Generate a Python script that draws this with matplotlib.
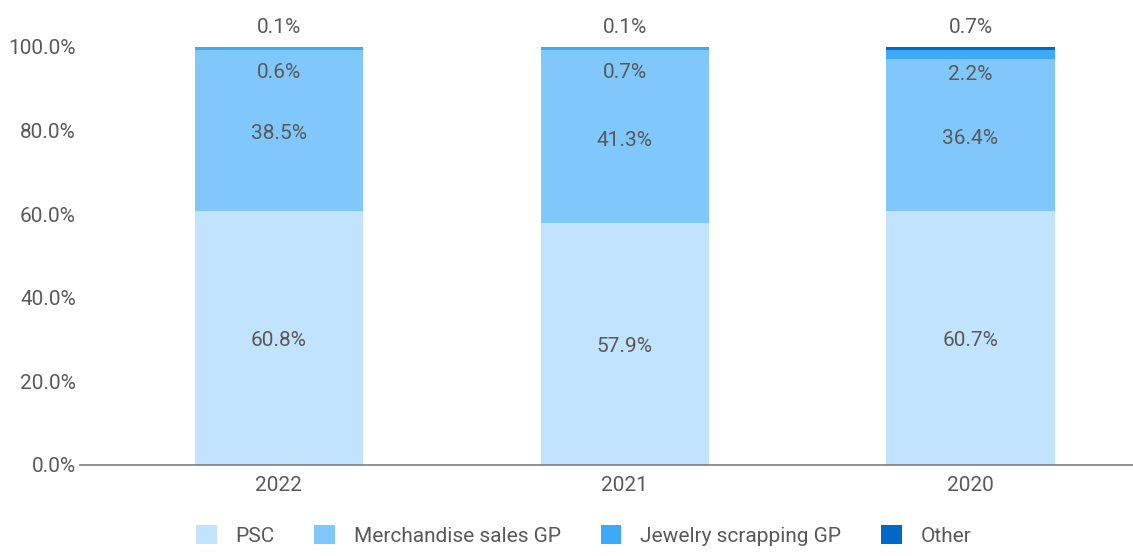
import matplotlib
matplotlib.use("Agg")
import matplotlib.pyplot as plt
import numpy as np

plt.rcParams['font.family'] = ['Roboto', 'DejaVu Sans']

years = ["2022", "2021", "2020"]
psc = [60.8, 57.9, 60.7]
merch = [38.5, 41.3, 36.4]
jewelry = [0.6, 0.7, 2.2]
other = [0.1, 0.1, 0.7]

series_names = ["PSC", "Merchandise sales GP", "Jewelry scrapping GP", "Other"]
colors = ["#c2e3fd", "#80c7fc", "#3eaaf7", "#0068c9"]
txt_col = "#595959"

fig = plt.figure(figsize=(11.33, 5.56), dpi=100)
ax = fig.add_axes([80 / 1133, 91 / 556, 1053 / 1133, 418 / 556])

x = np.arange(len(years))
w = 0.486
bottom = np.zeros(len(years))
for vals, name, c in zip([psc, merch, jewelry, other], series_names, colors):
    ax.bar(x, vals, w, bottom=bottom, color=c, label=name, linewidth=0)
    bottom = bottom + np.array(vals)

# value labels
for i in range(len(years)):
    ax.text(x[i], psc[i] / 2 - 0.5, f"{psc[i]:.1f}%", ha="center", va="center", fontsize=15, color=txt_col)
    ax.text(x[i], psc[i] + merch[i] / 2 - 0.8, f"{merch[i]:.1f}%", ha="center", va="center", fontsize=15, color=txt_col)
    top_j = psc[i] + merch[i] + jewelry[i]
    ax.text(x[i], top_j - 5.9, f"{jewelry[i]:.1f}%", ha="center", va="center", fontsize=15, color=txt_col)
    ax.text(x[i], 104.6, f"{other[i]:.1f}%", ha="center", va="center", fontsize=15, color=txt_col)

ax.set_xlim(-0.575, 2.47)
ax.set_ylim(0, 100)
ax.set_yticks(np.arange(0, 101, 20))
ax.set_yticklabels([f"{v:.1f}%" for v in np.arange(0, 101, 20)])
ax.set_xticks(x)
ax.set_xticklabels(years)
ax.tick_params(axis="both", length=0, labelsize=15, labelcolor=txt_col)
ax.tick_params(axis="y", pad=3)
ax.tick_params(axis="x", pad=8)
for s in ["top", "right", "left"]:
    ax.spines[s].set_visible(False)
ax.spines["bottom"].set_color("#7f7f7f")
ax.spines["bottom"].set_linewidth(1.2)

leg = fig.legend(loc="lower center", bbox_to_anchor=(0.515, -0.015), ncol=4, frameon=False,
                 fontsize=15, handlelength=1.0, handleheight=1.0, columnspacing=1.9, handletextpad=0.9)
for t in leg.get_texts():
    t.set_color(txt_col)

fig.savefig("out.png", dpi=100)
